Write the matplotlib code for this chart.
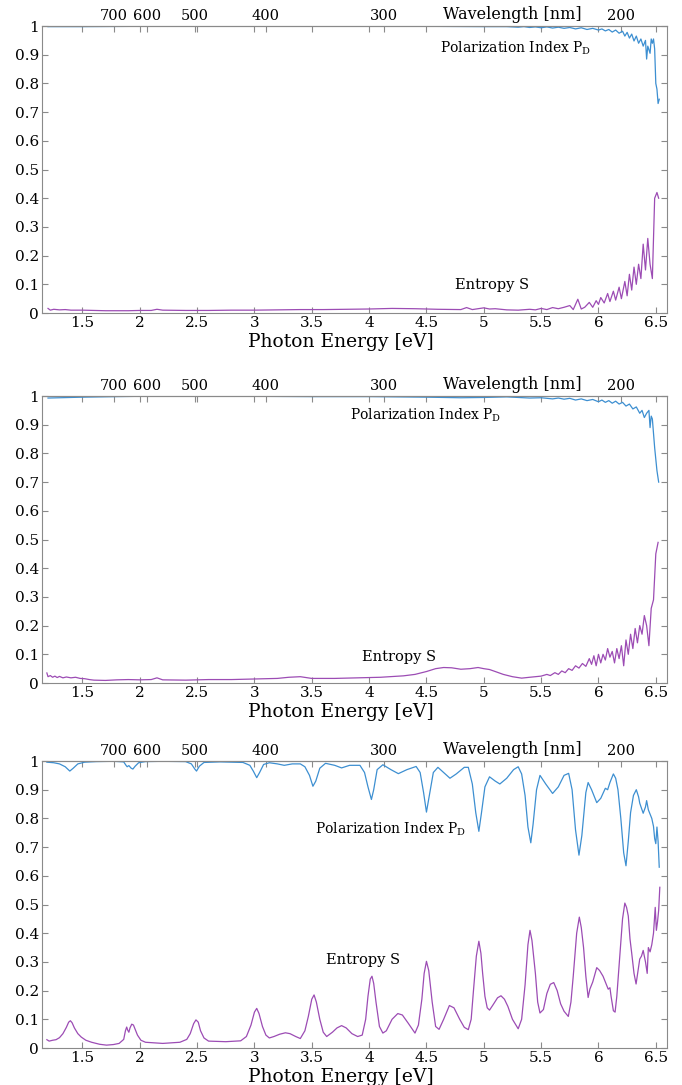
import numpy as np
import matplotlib.pyplot as plt
from matplotlib.ticker import FixedLocator, FormatStrFormatter

plt.rcParams['font.family'] = 'DejaVu Serif'
plt.rcParams['mathtext.fontset'] = 'dejavuserif'

HC = 1239.84  # eV*nm

# (photon energy [eV], value) pairs for each sample
pd1 = np.array([
    (1.20, 0.998), (1.5, 0.998), (2.0, 0.999), (2.5, 0.999), (3.0, 0.999), (3.5, 0.999),
    (4.0, 0.999), (4.5, 0.999), (5.0, 0.998), (5.2, 0.998), (5.3, 0.996), (5.35, 0.998),
    (5.4, 0.995), (5.45, 0.997), (5.5, 0.994), (5.55, 0.997), (5.6, 0.993), (5.65, 0.996),
    (5.7, 0.992), (5.75, 0.995), (5.8, 0.990), (5.85, 0.994), (5.9, 0.988), (5.95, 0.992),
    (6.0, 0.986), (6.03, 0.990), (6.06, 0.983), (6.09, 0.988), (6.12, 0.979), (6.15, 0.986),
    (6.18, 0.975), (6.21, 0.982), (6.23, 0.965), (6.25, 0.978), (6.27, 0.958), (6.29, 0.972),
    (6.31, 0.948), (6.33, 0.965), (6.35, 0.940), (6.37, 0.955), (6.39, 0.930), (6.41, 0.950),
    (6.42, 0.885), (6.43, 0.930), (6.45, 0.905), (6.46, 0.955), (6.47, 0.940), (6.48, 0.955),
    (6.49, 0.920), (6.50, 0.800), (6.51, 0.780), (6.52, 0.730), (6.53, 0.745)])

s1 = np.array([
    (1.20, 0.016), (1.22, 0.010), (1.25, 0.013), (1.3, 0.011), (1.35, 0.012), (1.4, 0.010),
    (1.5, 0.010), (1.6, 0.009), (1.7, 0.008), (1.8, 0.008), (1.9, 0.008), (2.0, 0.009),
    (2.1, 0.009), (2.15, 0.013), (2.2, 0.010), (2.4, 0.009), (2.6, 0.009), (2.8, 0.010),
    (3.0, 0.010), (3.2, 0.011), (3.4, 0.012), (3.6, 0.012), (3.8, 0.013), (4.0, 0.014),
    (4.2, 0.016), (4.4, 0.015), (4.6, 0.013), (4.8, 0.012), (4.85, 0.019), (4.9, 0.012),
    (5.0, 0.018), (5.05, 0.014), (5.1, 0.015), (5.2, 0.011), (5.3, 0.010), (5.4, 0.013),
    (5.45, 0.011), (5.5, 0.016), (5.55, 0.012), (5.6, 0.019), (5.65, 0.015), (5.7, 0.020),
    (5.75, 0.026), (5.78, 0.012), (5.82, 0.048), (5.85, 0.014), (5.88, 0.020), (5.92, 0.037),
    (5.95, 0.020), (5.98, 0.043), (6.0, 0.030), (6.02, 0.054), (6.05, 0.035), (6.08, 0.068),
    (6.1, 0.040), (6.13, 0.076), (6.15, 0.045), (6.18, 0.090), (6.2, 0.050), (6.23, 0.110),
    (6.25, 0.060), (6.27, 0.135), (6.29, 0.080), (6.31, 0.160), (6.33, 0.100), (6.35, 0.170),
    (6.37, 0.120), (6.39, 0.240), (6.41, 0.150), (6.43, 0.260), (6.45, 0.170), (6.47, 0.120),
    (6.49, 0.400), (6.51, 0.420), (6.525, 0.400)])

pd2 = np.array([
    (1.2, 0.993), (1.3, 0.994), (1.5, 0.996), (1.8, 0.998), (2.0, 0.999), (2.5, 0.999),
    (3.0, 0.999), (3.5, 0.998), (4.0, 0.998), (4.5, 0.996), (4.8, 0.994), (5.0, 0.995),
    (5.2, 0.997), (5.4, 0.993), (5.5, 0.994), (5.6, 0.990), (5.65, 0.993), (5.7, 0.989),
    (5.75, 0.992), (5.8, 0.986), (5.85, 0.990), (5.9, 0.984), (5.95, 0.988), (6.0, 0.980),
    (6.03, 0.986), (6.06, 0.978), (6.09, 0.984), (6.12, 0.975), (6.15, 0.982), (6.18, 0.972),
    (6.21, 0.978), (6.24, 0.965), (6.27, 0.972), (6.3, 0.955), (6.33, 0.962), (6.36, 0.940),
    (6.38, 0.950), (6.4, 0.925), (6.42, 0.940), (6.44, 0.950), (6.45, 0.890), (6.46, 0.930),
    (6.47, 0.920), (6.49, 0.820), (6.51, 0.740), (6.525, 0.700)])

s2 = np.array([
    (1.19, 0.035), (1.2, 0.022), (1.22, 0.026), (1.24, 0.020), (1.26, 0.024), (1.28, 0.019),
    (1.3, 0.023), (1.33, 0.018), (1.36, 0.021), (1.4, 0.018), (1.44, 0.020), (1.48, 0.016),
    (1.52, 0.015), (1.56, 0.012), (1.6, 0.010), (1.7, 0.009), (1.8, 0.011), (1.9, 0.012),
    (2.0, 0.011), (2.1, 0.012), (2.15, 0.018), (2.2, 0.011), (2.4, 0.010), (2.6, 0.012),
    (2.8, 0.012), (3.0, 0.014), (3.2, 0.016), (3.3, 0.020), (3.4, 0.022), (3.5, 0.016),
    (3.7, 0.016), (3.9, 0.018), (4.1, 0.020), (4.3, 0.025), (4.4, 0.030), (4.5, 0.040),
    (4.58, 0.050), (4.65, 0.054), (4.72, 0.053), (4.8, 0.048), (4.88, 0.050), (4.95, 0.054),
    (5.0, 0.050), (5.05, 0.047), (5.1, 0.040), (5.17, 0.030), (5.25, 0.022), (5.33, 0.017),
    (5.4, 0.020), (5.45, 0.022), (5.5, 0.024), (5.55, 0.030), (5.58, 0.026), (5.62, 0.036),
    (5.65, 0.030), (5.68, 0.042), (5.71, 0.036), (5.74, 0.050), (5.77, 0.044), (5.8, 0.060),
    (5.83, 0.052), (5.86, 0.068), (5.89, 0.058), (5.92, 0.085), (5.94, 0.065), (5.96, 0.095),
    (5.98, 0.060), (6.0, 0.100), (6.02, 0.070), (6.04, 0.100), (6.06, 0.080), (6.08, 0.120),
    (6.1, 0.090), (6.12, 0.110), (6.14, 0.070), (6.16, 0.120), (6.18, 0.085), (6.2, 0.130),
    (6.22, 0.060), (6.24, 0.150), (6.26, 0.100), (6.28, 0.170), (6.3, 0.120), (6.32, 0.190),
    (6.34, 0.140), (6.36, 0.200), (6.38, 0.170), (6.4, 0.235), (6.42, 0.200), (6.44, 0.130),
    (6.46, 0.260), (6.48, 0.290), (6.5, 0.450), (6.52, 0.490)])

pd3 = np.array([
    (1.19, 0.996), (1.25, 0.994), (1.3, 0.990), (1.35, 0.980), (1.39, 0.965), (1.42, 0.975),
    (1.46, 0.990), (1.52, 0.996), (1.62, 0.998), (1.77, 0.999), (1.86, 0.997), (1.88, 0.985),
    (1.89, 0.980), (1.905, 0.984), (1.925, 0.975), (1.94, 0.972), (1.96, 0.982), (1.99, 0.994),
    (2.05, 0.998), (2.2, 0.999), (2.4, 0.998), (2.45, 0.990), (2.48, 0.972), (2.495, 0.965),
    (2.52, 0.982), (2.56, 0.995), (2.7, 0.997), (2.9, 0.995), (2.96, 0.985), (2.99, 0.965),
    (3.02, 0.942), (3.045, 0.960), (3.08, 0.988), (3.13, 0.994), (3.2, 0.990), (3.26, 0.985),
    (3.33, 0.990), (3.4, 0.990), (3.44, 0.980), (3.48, 0.950), (3.51, 0.912), (3.535, 0.930),
    (3.57, 0.975), (3.62, 0.992), (3.7, 0.985), (3.76, 0.976), (3.83, 0.985), (3.92, 0.985),
    (3.96, 0.960), (3.99, 0.910), (4.02, 0.866), (4.04, 0.900), (4.07, 0.970), (4.12, 0.987),
    (4.19, 0.970), (4.255, 0.956), (4.33, 0.970), (4.41, 0.981), (4.445, 0.960), (4.475, 0.890),
    (4.5, 0.822), (4.525, 0.880), (4.56, 0.960), (4.6, 0.978), (4.65, 0.960), (4.705, 0.940),
    (4.76, 0.955), (4.83, 0.978), (4.865, 0.978), (4.9, 0.920), (4.93, 0.820), (4.957, 0.755),
    (4.98, 0.820), (5.01, 0.910), (5.05, 0.945), (5.1, 0.930), (5.14, 0.920), (5.2, 0.940),
    (5.26, 0.970), (5.3, 0.980), (5.33, 0.955), (5.36, 0.880), (5.385, 0.770), (5.41, 0.715),
    (5.43, 0.780), (5.46, 0.900), (5.49, 0.950), (5.54, 0.920), (5.6, 0.887), (5.65, 0.910),
    (5.7, 0.950), (5.74, 0.957), (5.77, 0.900), (5.8, 0.760), (5.83, 0.672), (5.855, 0.740),
    (5.89, 0.890), (5.91, 0.925), (5.94, 0.900), (5.985, 0.855), (6.02, 0.870), (6.06, 0.905),
    (6.08, 0.900), (6.1, 0.925), (6.13, 0.955), (6.15, 0.940), (6.17, 0.900), (6.195, 0.800),
    (6.22, 0.680), (6.24, 0.635), (6.26, 0.720), (6.28, 0.820), (6.305, 0.880), (6.33, 0.900),
    (6.35, 0.875), (6.36, 0.853), (6.38, 0.830), (6.39, 0.818), (6.41, 0.840), (6.42, 0.862),
    (6.435, 0.830), (6.45, 0.815), (6.465, 0.800), (6.48, 0.772), (6.49, 0.730), (6.5, 0.712),
    (6.51, 0.770), (6.52, 0.720), (6.53, 0.630)])

s3 = np.array([
    (1.19, 0.029), (1.21, 0.024), (1.24, 0.027), (1.27, 0.029), (1.30, 0.036), (1.33, 0.050),
    (1.36, 0.072), (1.38, 0.090), (1.395, 0.095), (1.41, 0.088), (1.43, 0.070), (1.46, 0.050),
    (1.49, 0.038), (1.53, 0.027), (1.58, 0.020), (1.65, 0.013), (1.71, 0.010), (1.77, 0.012),
    (1.82, 0.016), (1.86, 0.030), (1.875, 0.060), (1.886, 0.073), (1.895, 0.062), (1.905, 0.055),
    (1.915, 0.070), (1.93, 0.083), (1.945, 0.080), (1.96, 0.065), (1.98, 0.045), (2.01, 0.027),
    (2.05, 0.020), (2.2, 0.016), (2.35, 0.020), (2.41, 0.030), (2.44, 0.050), (2.47, 0.085),
    (2.49, 0.098), (2.51, 0.090), (2.53, 0.060), (2.56, 0.035), (2.6, 0.024), (2.75, 0.022),
    (2.88, 0.025), (2.93, 0.040), (2.97, 0.080), (3.0, 0.125), (3.02, 0.138), (3.04, 0.120),
    (3.07, 0.075), (3.1, 0.045), (3.13, 0.035), (3.17, 0.040), (3.22, 0.048), (3.27, 0.053),
    (3.31, 0.050), (3.36, 0.040), (3.4, 0.033), (3.44, 0.060), (3.47, 0.110), (3.5, 0.170),
    (3.52, 0.185), (3.54, 0.160), (3.57, 0.100), (3.6, 0.055), (3.63, 0.040), (3.68, 0.055),
    (3.72, 0.070), (3.76, 0.078), (3.8, 0.070), (3.85, 0.050), (3.9, 0.040), (3.94, 0.045),
    (3.97, 0.100), (3.99, 0.180), (4.01, 0.240), (4.025, 0.250), (4.04, 0.225), (4.06, 0.160),
    (4.09, 0.075), (4.12, 0.052), (4.15, 0.060), (4.2, 0.100), (4.25, 0.120), (4.29, 0.115),
    (4.34, 0.087), (4.4, 0.052), (4.43, 0.080), (4.46, 0.170), (4.48, 0.260), (4.5, 0.302),
    (4.52, 0.270), (4.55, 0.160), (4.58, 0.075), (4.61, 0.065), (4.65, 0.100), (4.7, 0.148),
    (4.74, 0.140), (4.79, 0.100), (4.83, 0.072), (4.865, 0.064), (4.89, 0.100), (4.91, 0.200),
    (4.935, 0.320), (4.957, 0.372), (4.975, 0.330), (4.99, 0.260), (5.01, 0.180), (5.03, 0.140),
    (5.05, 0.132), (5.08, 0.150), (5.12, 0.175), (5.15, 0.182), (5.18, 0.170), (5.21, 0.145),
    (5.25, 0.100), (5.3, 0.067), (5.33, 0.100), (5.36, 0.220), (5.385, 0.360), (5.403, 0.410),
    (5.42, 0.375), (5.45, 0.260), (5.47, 0.160), (5.49, 0.122), (5.52, 0.134), (5.55, 0.190),
    (5.58, 0.222), (5.61, 0.228), (5.64, 0.200), (5.67, 0.154), (5.7, 0.128), (5.737, 0.110),
    (5.76, 0.160), (5.78, 0.250), (5.81, 0.400), (5.833, 0.456), (5.85, 0.420), (5.87, 0.350),
    (5.89, 0.250), (5.91, 0.176), (5.925, 0.205), (5.95, 0.230), (5.985, 0.280), (6.01, 0.270),
    (6.04, 0.250), (6.07, 0.220), (6.085, 0.205), (6.1, 0.210), (6.11, 0.180), (6.13, 0.130),
    (6.145, 0.125), (6.16, 0.180), (6.19, 0.340), (6.21, 0.450), (6.23, 0.505), (6.245, 0.490),
    (6.26, 0.460), (6.275, 0.380), (6.29, 0.330), (6.31, 0.260), (6.328, 0.223), (6.345, 0.270),
    (6.36, 0.310), (6.375, 0.320), (6.39, 0.340), (6.41, 0.300), (6.425, 0.260), (6.435, 0.350),
    (6.45, 0.335), (6.465, 0.360), (6.48, 0.400), (6.495, 0.490), (6.505, 0.410), (6.515, 0.440),
    (6.525, 0.480), (6.535, 0.560)])

# label anchors (energy, value) for each panel
pd_label_pos = [(4.62, 0.923), (3.83, 0.934), (3.53, 0.763)]
s_label_pos = [(4.75, 0.098), (3.94, 0.090), (3.62, 0.307)]

energy_ticks = [1.5, 2, 2.5, 3, 3.5, 4, 4.5, 5, 5.5, 6, 6.5]
wl_ticks = [700, 600, 500, 400, 300, 200]

blue = '#3d8fd1'
purple = '#9c4cb4'
frame = '#8a8a8a'

fig = plt.figure(figsize=(6.82, 10.85), dpi=100)
bottoms = [0.7115, 0.3705, 0.0341]
panels = [(pd1, s1), (pd2, s2), (pd3, s3)]

for k, (pd, s) in enumerate(panels):
    ax = fig.add_axes([0.062, bottoms[k], 0.9164, 0.2645])
    ax.plot(pd[:, 0], pd[:, 1], color=blue, lw=0.9)
    ax.plot(s[:, 0], s[:, 1], color=purple, lw=0.9)
    ax.set_xlim(1.15, 6.6)
    ax.set_ylim(0, 1)
    ax.xaxis.set_major_locator(FixedLocator(energy_ticks))
    ax.xaxis.set_major_formatter(FormatStrFormatter('%g'))
    ax.yaxis.set_major_locator(FixedLocator(np.arange(0, 1.01, 0.1)))
    ax.yaxis.set_major_formatter(FormatStrFormatter('%g'))
    ax.tick_params(direction='in', length=4, width=0.8, color=frame, labelsize=11,
                   top=True, right=True, pad=2.5)
    for sp in ax.spines.values():
        sp.set_color(frame)
        sp.set_linewidth(0.8)
    ax.set_xlabel('Photon Energy [eV]', fontsize=13.5, labelpad=0)
    ax.xaxis.set_label_coords(0.478, -0.07)

    sec = ax.secondary_xaxis('top', functions=(lambda e: HC / e, lambda w: HC / w))
    sec.set_xticks(wl_ticks)
    sec.xaxis.set_major_formatter(FormatStrFormatter('%g'))
    sec.tick_params(direction='in', length=4, width=0.8, color=frame, labelsize=10.5, pad=2)
    sec.spines['top'].set_color(frame)
    ax.annotate('Wavelength [nm]', xy=(5.25, 1), xycoords=('data', 'axes fraction'),
                xytext=(0, 8), textcoords='offset points', ha='center', va='center',
                fontsize=11.5)

    ax.text(*pd_label_pos[k], 'Polarization Index P$_\\mathrm{D}$', fontsize=10,
            ha='left', va='center')
    ax.text(*s_label_pos[k], 'Entropy S', fontsize=10.5, ha='left', va='center')

fig.savefig('out.png', dpi=100)
